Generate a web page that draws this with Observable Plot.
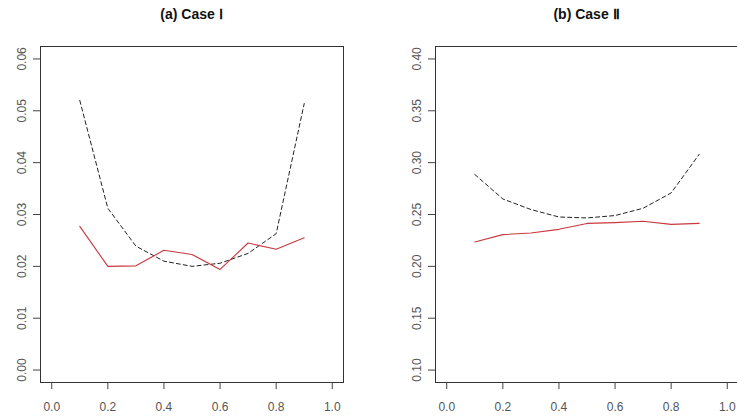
<!DOCTYPE html>
<html>
<head>
<meta charset="utf-8">
<script src="https://cdn.jsdelivr.net/npm/d3@7"></script>
<script src="https://cdn.jsdelivr.net/npm/@observablehq/plot@0.6"></script>
<style>
  html, body { margin: 0; padding: 0; background: #fff; overflow: hidden; }
  #wrap { position: relative; width: 737px; height: 417px; overflow: hidden; font-family: "Liberation Sans", Arial, sans-serif; }
  .panel { position: absolute; top: 0; width: 368px; height: 417px; }
  .panel svg { max-width: none !important; }
  .title { position: absolute; top: 6px; font-weight: bold; font-size: 14px; color: #111; text-align: center; white-space: nowrap; }
</style>
</head>
<body>
<div id="wrap"></div>
<script>
const xs = [0.1, 0.2, 0.3, 0.4, 0.5, 0.6, 0.7, 0.8, 0.9];
const xTicks = [0, 0.2, 0.4, 0.6, 0.8, 1.0];

const caseIDashed = [0.0520, 0.0312, 0.0239, 0.0210, 0.0200, 0.0206, 0.0225, 0.0263, 0.0514];
const caseIRed    = [0.0277, 0.0200, 0.0201, 0.0231, 0.0223, 0.0194, 0.0245, 0.0233, 0.0255];
const caseIYTicks = [0, 0.01, 0.02, 0.03, 0.04, 0.05, 0.06];

const caseIIDashed = [0.2886, 0.2650, 0.2548, 0.2476, 0.2467, 0.2490, 0.2560, 0.2708, 0.3081];
const caseIIRed    = [0.2235, 0.2306, 0.2322, 0.2357, 0.2414, 0.2422, 0.2435, 0.2405, 0.2414];
const caseIIYTicks = [0.10, 0.15, 0.20, 0.25, 0.30, 0.35, 0.40];

const titles = ["(a) Case \u2160", "(b) Case \u2161"];

function pad(lo, hi) { const d = (hi - lo) * 0.04; return [lo - d, hi + d]; }

function panel(dashed, red, yTicks) {
  const dash = xs.map((x, i) => ({x, y: dashed[i]}));
  const rd = xs.map((x, i) => ({x, y: red[i]}));
  return Plot.plot({
    width: 368, height: 417,
    marginLeft: 40, marginRight: 25, marginTop: 46, marginBottom: 35,
    style: {fontFamily: "'Liberation Sans', Arial, sans-serif", fontSize: "12px", color: "#444", background: "#fff", maxWidth: "none"},
    x: {domain: pad(0, 1), label: null},
    y: {domain: pad(yTicks[0], yTicks[yTicks.length - 1]), label: null},
    marks: [
      Plot.frame({stroke: "#333", strokeWidth: 1}),
      Plot.axisX({ticks: xTicks, tickFormat: d3.format(".1f"), tickSize: 7, tickPadding: 13, stroke: "#444", fill: "#555", fontSize: 12}),
      Plot.axisY({ticks: yTicks, tickFormat: d3.format(".2f"), tickSize: 7, tickPadding: 8, tickRotate: -90, textAnchor: "middle", lineAnchor: "bottom", stroke: "#444", fill: "#555", fontSize: 12}),
      Plot.line(dash, {x: "x", y: "y", stroke: "#222", strokeWidth: 1, strokeDasharray: "4,3"}),
      Plot.line(rd, {x: "x", y: "y", stroke: "#c8383f", strokeWidth: 1.1})
    ]
  });
}

const wrap = document.getElementById("wrap");
const specs = [
  {left: 0, dashed: caseIDashed, red: caseIRed, ticks: caseIYTicks, title: titles[0]},
  {left: 395, dashed: caseIIDashed, red: caseIIRed, ticks: caseIIYTicks, title: titles[1]}
];
for (const s of specs) {
  const div = document.createElement("div");
  div.className = "panel";
  div.style.left = s.left + "px";
  div.appendChild(panel(s.dashed, s.red, s.ticks));
  wrap.appendChild(div);
  const t = document.createElement("div");
  t.className = "title";
  t.textContent = s.title;
  t.style.left = (s.left + 40) + "px";
  t.style.width = "303px";
  wrap.appendChild(t);
}
</script>
</body>
</html>
